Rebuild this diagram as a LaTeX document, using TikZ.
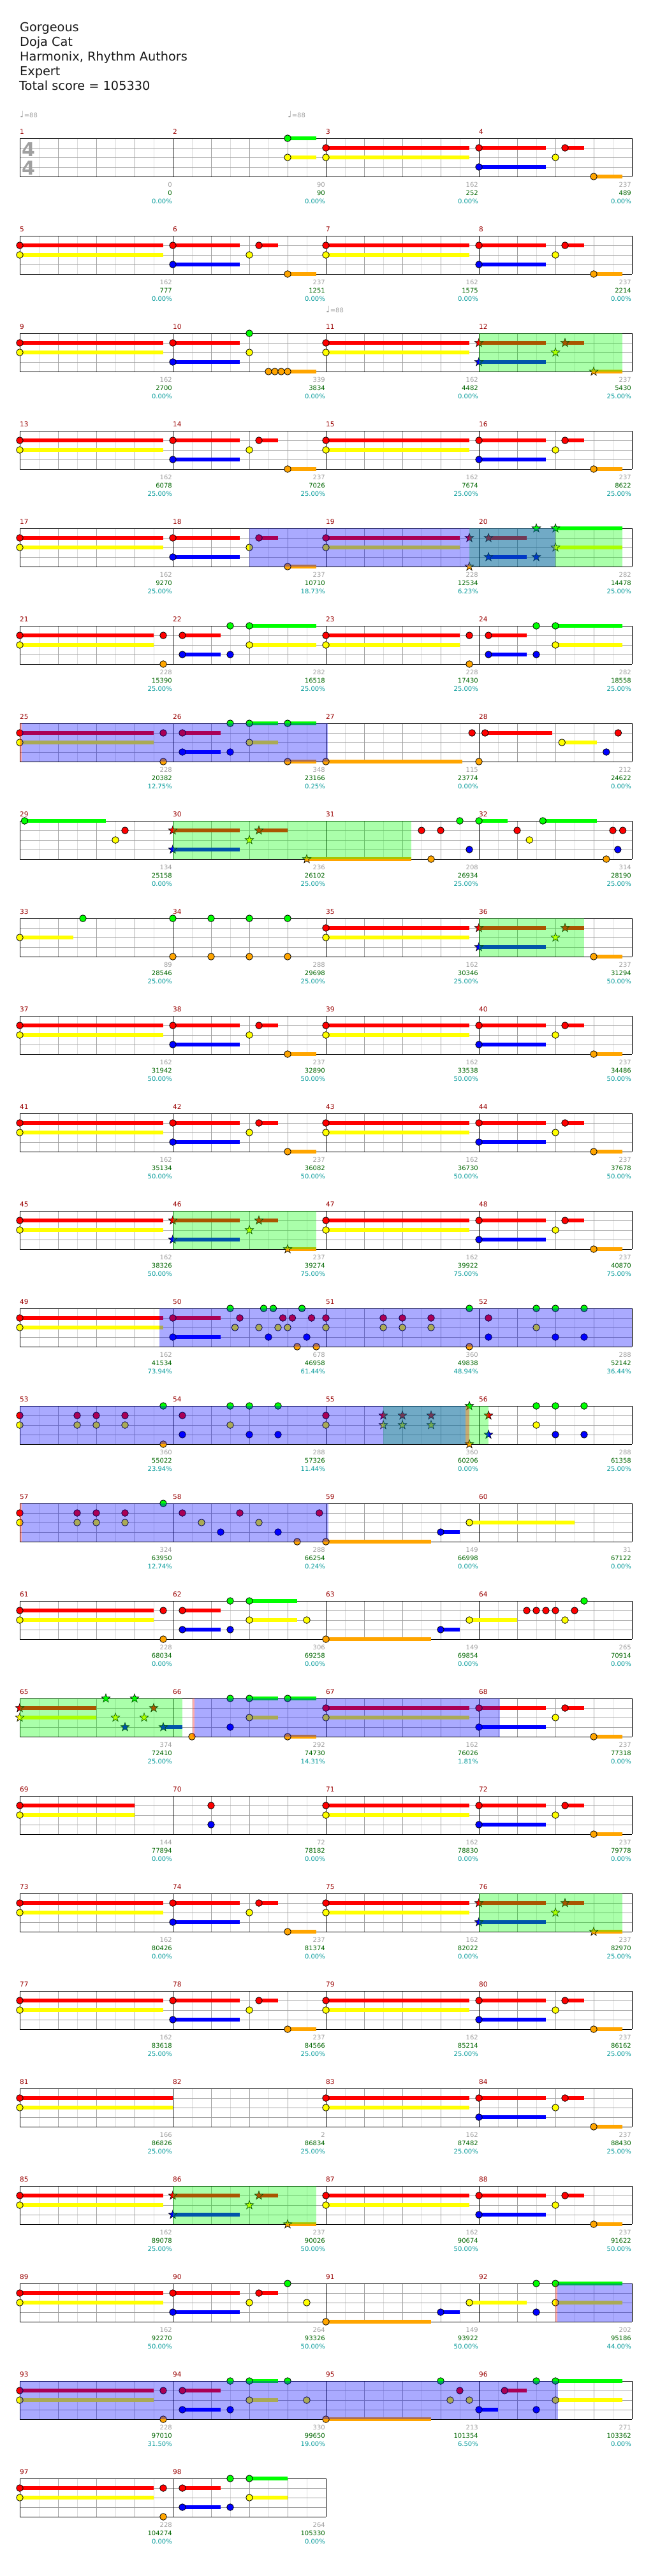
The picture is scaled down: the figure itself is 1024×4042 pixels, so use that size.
\documentclass[tikz,border=0pt]{standalone}
\usepackage{fontspec}
\setmainfont{DejaVu Sans}
\definecolor{ln0}{HTML}{00FF00}
\definecolor{ln1}{HTML}{FF0000}
\definecolor{ln2}{HTML}{FFFF00}
\definecolor{ln3}{HTML}{0000FF}
\definecolor{ln4}{HTML}{FFA500}
\definecolor{lgrc}{HTML}{DCDCDC}
\definecolor{ggrc}{HTML}{A0A0A0}
\definecolor{mnumc}{HTML}{990000}
\definecolor{scgray}{HTML}{A0A0A0}
\definecolor{scgreen}{HTML}{006600}
\definecolor{scteal}{HTML}{009999}
\tikzset{
 notest/.style={draw=black,line width=0.8pt},
 starst/.style={draw=black,line width=0.6pt,line join=miter},
 lgr/.style={draw=lgrc,line width=1pt},
 ggr/.style={draw=ggrc,line width=1pt},
 bgr/.style={draw=black,line width=1pt},
 mnst/.style={anchor=base west,inner sep=0pt,text=mnumc,font=\fontsize{10.5}{12}\selectfont},
 sAst/.style={anchor=base east,inner sep=0pt,text=scgray,font=\fontsize{10}{12}\selectfont},
 sBst/.style={anchor=base east,inner sep=0pt,text=scgreen,font=\fontsize{10}{12}\selectfont},
 sCst/.style={anchor=base east,inner sep=0pt,text=scteal,font=\fontsize{10}{12}\selectfont},
 titst/.style={anchor=base west,inner sep=0pt,text=black!90,font=\fontsize{19.3}{22}\selectfont},
 tempost/.style={anchor=base west,inner sep=0pt,text=scgray,font=\fontsize{10}{12}\selectfont},
 tsig/.style={anchor=base,inner sep=0pt,text=ggrc,font=\fontsize{30}{30}\selectfont\bfseries},
}
\newcommand\Xp[2]{31+240*(#1)+60*(#2)}
\newcommand\Nt[3]{\filldraw[notest,fill=ln#3] ({\Xp{#1}{#2}},{15*(#3)}) circle (5.3);}
\newcommand\St[3]{\filldraw[starst,fill=ln#3,shift={({\Xp{#1}{#2}},{15*(#3)})}] (-90:7.2) -- (-54:2.9) -- (-18:7.2) -- (18:2.9) -- (54:7.2) -- (90:2.9) -- (126:7.2) -- (162:2.9) -- (198:7.2) -- (234:2.9) -- cycle;}
\newcommand\Su[4]{\fill[ln#4] ({\Xp{#1}{#2}},{15*(#4)-3.2}) rectangle ({\Xp{#1}{#3}},{15*(#4)+3.2});}
\newcommand\Gov[4]{\fill[green,fill opacity=0.333] ({\Xp{#1}{#2}},0) rectangle ({\Xp{#3}{#4}},60);}
\newcommand\Bov[4]{\fill[blue,fill opacity=0.333] ({\Xp{#1}{#2}},0) rectangle ({\Xp{#3}{#4}},60);}
\newcommand\GovX[2]{\fill[green,fill opacity=0.333] (#1,0) rectangle (#2,60);}
\newcommand\BovX[2]{\fill[blue,fill opacity=0.333] (#1,0) rectangle (#2,60);}
\newcommand\PovX[2]{\fill[red,fill opacity=0.333] (#1,0) rectangle (#2,60);}
\newcommand\Msc[5]{%
 \node[mnst] (mn#2) at ({\Xp{#1}{0}},-7) {#2};
 \node[sAst] (sa#2) at ({\Xp{#1}{4}-1},76) {#3};
 \node[sBst] (sb#2) at ({\Xp{#1}{4}-1},89) {#4};
 \node[sCst] (sc#2) at ({\Xp{#1}{4}-1},102) {#5\%};}
\newcommand\Grid[1]{%
 \pgfmathtruncatemacro\nhl{8*#1-1}%
 \pgfmathtruncatemacro\nbl{4*#1-1}%
 \foreach \k in {1,3,...,\nhl} {\draw[lgr] ({31+30*\k},0) -- ({31+30*\k},60);}
 \foreach \k in {1,...,\nbl} {\draw[ggr] ({31+60*\k},0) -- ({31+60*\k},60);}
 \foreach \yy in {15,30,45} {\draw[ggr] (31,\yy) -- ({31+240*#1},\yy);}
 \foreach \k in {0,...,#1} {\draw[bgr] ({31+240*\k},0) -- ({31+240*\k},60);}
 \draw[bgr] (31,0) -- ({31+240*#1},0);
 \draw[bgr] (31,60) -- ({31+240*#1},60);}
\newcommand\PatA[1]{\Su{#1}{0}{3.75}{1}\Su{#1}{0}{3.75}{2}\Nt{#1}{0}{1}\Nt{#1}{0}{2}}
\newcommand\PatB[1]{\Su{#1}{0}{1.75}{1}\Su{#1}{2.25}{2.75}{1}\Su{#1}{0}{1.75}{3}\Su{#1}{3}{3.75}{4}\Nt{#1}{0}{1}\Nt{#1}{2.25}{1}\Nt{#1}{2}{2}\Nt{#1}{0}{3}\Nt{#1}{3}{4}}
\newcommand\PatBs[1]{\Su{#1}{0}{1.75}{1}\Su{#1}{2.25}{2.75}{1}\Su{#1}{0}{1.75}{3}\Su{#1}{3}{3.75}{4}\St{#1}{0}{1}\St{#1}{2.25}{1}\St{#1}{2}{2}\St{#1}{0}{3}\St{#1}{3}{4}}
\newcommand\PatC[1]{\Su{#1}{0}{3.5}{1}\Su{#1}{0}{3.5}{2}\Nt{#1}{0}{1}\Nt{#1}{0}{2}\Nt{#1}{3.75}{1}\Nt{#1}{3.75}{4}}
\newcommand\PatD[1]{\Su{#1}{0.25}{1.25}{1}\Su{#1}{0.25}{1.25}{3}\Su{#1}{2}{3.75}{0}\Su{#1}{2}{3.75}{2}\Nt{#1}{0.25}{1}\Nt{#1}{0.25}{3}\Nt{#1}{1.5}{0}\Nt{#1}{1.5}{3}\Nt{#1}{2}{0}\Nt{#1}{2}{2}}
\newcommand\PatE[1]{\Nt{#1}{0}{1}\Nt{#1}{0}{2}\Nt{#1}{1.5}{1}\Nt{#1}{1.5}{2}\Nt{#1}{2}{1}\Nt{#1}{2}{2}\Nt{#1}{2.75}{1}\Nt{#1}{2.75}{2}\Nt{#1}{3.75}{0}\Nt{#1}{3.75}{4}}
\newcommand\PatF[1]{\Nt{#1}{0.25}{1}\Nt{#1}{0.25}{3}\Nt{#1}{1.5}{0}\Nt{#1}{1.5}{2}\Nt{#1}{2}{0}\Nt{#1}{2}{3}\Nt{#1}{2.75}{0}\Nt{#1}{2.75}{3}}
\begin{document}
\begin{tikzpicture}[x=1pt,y=-1pt]
\useasboundingbox (0,0) rectangle (1024,4042);
\fill[white] (0,0) rectangle (1024,4042);
\node[titst] (t1) at (31,49.5) {Gorgeous};
\node[titst] (t2) at (31,72.5) {Doja Cat};
\node[titst] (t3) at (31,95.5) {Harmonix, Rhythm Authors};
\node[titst] (t4) at (31,118.5) {Expert};
\node[titst] (t5) at (30,141.5) {Total score = 105330};
% row 1
\begin{scope}[shift={(0,217)}]
\Grid{4}
\node[tsig] (ts1) at (44.5,28) {4};
\node[tsig] (ts2) at (44.5,57) {4};
\node[tempost] (tp1) at (31,-33) {{\fontsize{14}{14}\selectfont ♩}=88};
\node[tempost] (tp2) at (451,-33) {{\fontsize{14}{14}\selectfont ♩}=88};
\Su{1}{3}{3.75}{0}\Su{1}{3}{3.75}{2}\Nt{1}{3}{0}\Nt{1}{3}{2}
\PatA{2}\PatB{3}
\Msc{0}{1}{0}{0}{0.00}\Msc{1}{2}{90}{90}{0.00}\Msc{2}{3}{162}{252}{0.00}\Msc{3}{4}{237}{489}{0.00}
\end{scope}
% row 2
\begin{scope}[shift={(0,370)}]
\Grid{4}
\PatA{0}\PatB{1}\PatA{2}\PatB{3}
\Msc{0}{5}{162}{777}{0.00}\Msc{1}{6}{237}{1251}{0.00}\Msc{2}{7}{162}{1575}{0.00}\Msc{3}{8}{237}{2214}{0.00}
\end{scope}
% row 3
\begin{scope}[shift={(0,523)}]
\Grid{4}
\node[tempost] (tp3) at (511,-33) {{\fontsize{14}{14}\selectfont ♩}=88};
\PatA{0}
\Su{1}{0}{1.75}{1}\Su{1}{0}{1.75}{3}\Su{1}{3}{3.75}{4}\Nt{1}{0}{1}\Nt{1}{0}{3}\Nt{1}{2}{0}\Nt{1}{2}{2}\Nt{1}{2.5}{4}\Nt{1}{2.667}{4}\Nt{1}{2.833}{4}\Nt{1}{3}{4}
\PatA{2}\PatBs{3}
\Gov{3}{0}{3}{3.75}
\Msc{0}{9}{162}{2700}{0.00}\Msc{1}{10}{339}{3834}{0.00}\Msc{2}{11}{162}{4482}{0.00}\Msc{3}{12}{237}{5430}{25.00}
\end{scope}
% row 4
\begin{scope}[shift={(0,676)}]
\Grid{4}
\PatA{0}\PatB{1}\PatA{2}\PatB{3}
\Msc{0}{13}{162}{6078}{25.00}\Msc{1}{14}{237}{7026}{25.00}\Msc{2}{15}{162}{7674}{25.00}\Msc{3}{16}{237}{8622}{25.00}
\end{scope}
% row 5
\begin{scope}[shift={(0,829)}]
\Grid{4}
\PatA{0}\PatB{1}
\Su{2}{0}{3.5}{1}\Su{2}{0}{3.5}{2}\Nt{2}{0}{1}\Nt{2}{0}{2}\St{2}{3.75}{1}\St{2}{3.75}{4}
\Su{3}{0.25}{1.25}{1}\Su{3}{0.25}{1.25}{3}\Su{3}{2}{3.75}{0}\Su{3}{2}{3.75}{2}\St{3}{0.25}{1}\St{3}{0.25}{3}\St{3}{1.5}{0}\St{3}{1.5}{3}\St{3}{2}{0}\St{3}{2}{2}
\Gov{2}{3.75}{3}{3.75}\Bov{1}{2}{3}{2}
\Msc{0}{17}{162}{9270}{25.00}\Msc{1}{18}{237}{10710}{18.73}\Msc{2}{19}{228}{12534}{6.23}\Msc{3}{20}{282}{14478}{25.00}
\end{scope}
% row 6
\begin{scope}[shift={(0,982)}]
\Grid{4}
\PatC{0}\PatD{1}\PatC{2}\PatD{3}
\Msc{0}{21}{228}{15390}{25.00}\Msc{1}{22}{282}{16518}{25.00}\Msc{2}{23}{228}{17430}{25.00}\Msc{3}{24}{282}{18558}{25.00}
\end{scope}
% row 7
\begin{scope}[shift={(0,1135)}]
\Grid{4}
\PatC{0}
\Su{1}{0.25}{1.25}{1}\Su{1}{0.25}{1.25}{3}\Su{1}{2}{2.75}{0}\Su{1}{2}{2.75}{2}\Su{1}{3}{3.75}{0}\Su{1}{3}{3.75}{4}
\Nt{1}{0.25}{1}\Nt{1}{0.25}{3}\Nt{1}{1.5}{0}\Nt{1}{1.5}{3}\Nt{1}{2}{0}\Nt{1}{2}{2}\Nt{1}{3}{0}\Nt{1}{3}{4}
\Su{2}{0}{3.57}{4}\Nt{2}{0}{4}\Nt{2}{3.82}{1}
\Su{3}{0.16}{1.92}{1}\Su{3}{2.17}{3.09}{2}\Nt{3}{0}{4}\Nt{3}{0.16}{1}\Nt{3}{2.17}{2}\Nt{3}{3.33}{3}\Nt{3}{3.64}{1}
\PovX{31}{34}\BovX{34}{514}
\Msc{0}{25}{228}{20382}{12.75}\Msc{1}{26}{348}{23166}{0.25}\Msc{2}{27}{115}{23774}{0.00}\Msc{3}{28}{212}{24622}{0.00}
\end{scope}
% row 8
\begin{scope}[shift={(0,1288)}]
\Grid{4}
\Su{0}{0.125}{2.25}{0}\Nt{0}{0.125}{0}\Nt{0}{2.5}{2}\Nt{0}{2.75}{1}
\Su{1}{0}{1.75}{1}\Su{1}{2.25}{3}{1}\Su{1}{0}{1.75}{3}\Su{1}{3.5}{6.23}{4}\St{1}{0}{1}\St{1}{2.25}{1}\St{1}{2}{2}\St{1}{0}{3}\St{1}{3.5}{4}
\Nt{2}{2.5}{1}\Nt{2}{2.75}{4}\Nt{2}{3}{1}\Nt{2}{3.5}{0}\Nt{2}{3.75}{3}
\Su{3}{0}{0.75}{0}\Su{3}{1.67}{3.08}{0}\Nt{3}{0}{0}\Nt{3}{1}{1}\Nt{3}{1.32}{2}\Nt{3}{1.67}{0}\Nt{3}{3.33}{4}\Nt{3}{3.5}{1}\Nt{3}{3.63}{3}\Nt{3}{3.76}{1}
\GovX{271}{645}
\Msc{0}{29}{134}{25158}{0.00}\Msc{1}{30}{236}{26102}{25.00}\Msc{2}{31}{208}{26934}{25.00}\Msc{3}{32}{314}{28190}{25.00}
\end{scope}
% row 9
\begin{scope}[shift={(0,1441)}]
\Grid{4}
\Su{0}{0}{1.4}{2}\Nt{0}{0}{2}\Nt{0}{1.65}{0}
\Nt{1}{0}{0}\Nt{1}{1}{0}\Nt{1}{2}{0}\Nt{1}{3}{0}\Nt{1}{0}{4}\Nt{1}{1}{4}\Nt{1}{2}{4}\Nt{1}{3}{4}
\PatA{2}
\Su{3}{0}{1.75}{1}\Su{3}{2.25}{2.75}{1}\Su{3}{0}{1.75}{3}\Su{3}{3}{3.75}{4}\St{3}{0}{1}\St{3}{2.25}{1}\St{3}{2}{2}\St{3}{0}{3}\Nt{3}{3}{4}
\Gov{3}{0}{3}{2.75}
\Msc{0}{33}{89}{28546}{25.00}\Msc{1}{34}{288}{29698}{25.00}\Msc{2}{35}{162}{30346}{25.00}\Msc{3}{36}{237}{31294}{50.00}
\end{scope}
% row 10
\begin{scope}[shift={(0,1594)}]
\Grid{4}
\PatA{0}\PatB{1}\PatA{2}\PatB{3}
\Msc{0}{37}{162}{31942}{50.00}\Msc{1}{38}{237}{32890}{50.00}\Msc{2}{39}{162}{33538}{50.00}\Msc{3}{40}{237}{34486}{50.00}
\end{scope}
% row 11
\begin{scope}[shift={(0,1747)}]
\Grid{4}
\PatA{0}\PatB{1}\PatA{2}\PatB{3}
\Msc{0}{41}{162}{35134}{50.00}\Msc{1}{42}{237}{36082}{50.00}\Msc{2}{43}{162}{36730}{50.00}\Msc{3}{44}{237}{37678}{50.00}
\end{scope}
% row 12
\begin{scope}[shift={(0,1900)}]
\Grid{4}
\PatA{0}\PatBs{1}\PatA{2}\PatB{3}
\Gov{1}{0}{1}{3.75}
\Msc{0}{45}{162}{38326}{50.00}\Msc{1}{46}{237}{39274}{75.00}\Msc{2}{47}{162}{39922}{75.00}\Msc{3}{48}{237}{40870}{75.00}
\end{scope}
% row 13
\begin{scope}[shift={(0,2053)}]
\Grid{4}
\PatA{0}
\Su{1}{0}{1.25}{1}\Su{1}{0}{1.25}{3}
\Nt{1}{0}{1}\Nt{1}{0}{3}\Nt{1}{1.5}{0}\Nt{1}{1.625}{2}\Nt{1}{1.75}{1}\Nt{1}{2.25}{2}\Nt{1}{2.375}{0}\Nt{1}{2.5}{3}\Nt{1}{2.625}{0}\Nt{1}{2.75}{2}\Nt{1}{2.875}{1}\Nt{1}{3}{2}\Nt{1}{3.125}{1}\Nt{1}{3.25}{4}\Nt{1}{3.375}{0}\Nt{1}{3.5}{3}\Nt{1}{3.625}{1}\Nt{1}{3.75}{4}
\PatE{2}\PatF{3}
\Bov{0}{3.65}{4}{0}
\Msc{0}{49}{162}{41534}{73.94}\Msc{1}{50}{678}{46958}{61.44}\Msc{2}{51}{360}{49838}{48.94}\Msc{3}{52}{288}{52142}{36.44}
\end{scope}
% row 14
\begin{scope}[shift={(0,2206)}]
\Grid{4}
\PatE{0}\PatF{1}
\Nt{2}{0}{1}\Nt{2}{0}{2}\St{2}{1.5}{1}\St{2}{1.5}{2}\St{2}{2}{1}\St{2}{2}{2}\St{2}{2.75}{1}\St{2}{2.75}{2}\St{2}{3.75}{0}\St{2}{3.75}{4}
\St{3}{0.25}{1}\St{3}{0.25}{3}\Nt{3}{1.5}{0}\Nt{3}{1.5}{2}\Nt{3}{2}{0}\Nt{3}{2}{3}\Nt{3}{2.75}{0}\Nt{3}{2.75}{3}
\Gov{2}{1.5}{3}{0.25}\BovX{31}{730}\PovX{730}{736}
\Msc{0}{53}{360}{55022}{23.94}\Msc{1}{54}{288}{57326}{11.44}\Msc{2}{55}{360}{60206}{0.00}\Msc{3}{56}{288}{61358}{25.00}
\end{scope}
% row 15
\begin{scope}[shift={(0,2359)}]
\Grid{4}
\Nt{0}{0}{1}\Nt{0}{0}{2}\Nt{0}{1.5}{1}\Nt{0}{1.5}{2}\Nt{0}{2}{1}\Nt{0}{2}{2}\Nt{0}{2.75}{1}\Nt{0}{2.75}{2}\Nt{0}{3.75}{0}
\Nt{1}{0.25}{1}\Nt{1}{0.75}{2}\Nt{1}{1.25}{3}\Nt{1}{1.75}{1}\Nt{1}{2.25}{2}\Nt{1}{2.75}{3}\Nt{1}{3.25}{4}\Nt{1}{3.83}{1}
\Su{2}{0}{2.75}{4}\Su{2}{3}{3.5}{3}\Su{2}{3.75}{6.5}{2}\Nt{2}{0}{4}\Nt{2}{3}{3}\Nt{2}{3.75}{2}
\PovX{31}{34}\BovX{34}{515}
\Msc{0}{57}{324}{63950}{12.74}\Msc{1}{58}{288}{66254}{0.24}\Msc{2}{59}{149}{66998}{0.00}\Msc{3}{60}{31}{67122}{0.00}
\end{scope}
% row 16
\begin{scope}[shift={(0,2512)}]
\Grid{4}
\PatC{0}
\Su{1}{0.25}{1.25}{1}\Su{1}{0.25}{1.25}{3}\Su{1}{2}{3.25}{0}\Su{1}{2}{3.25}{2}\Nt{1}{0.25}{1}\Nt{1}{0.25}{3}\Nt{1}{1.5}{0}\Nt{1}{1.5}{3}\Nt{1}{2}{0}\Nt{1}{2}{2}\Nt{1}{3.5}{2}
\Su{2}{0}{2.75}{4}\Su{2}{3}{3.5}{3}\Su{2}{3.75}{5}{2}\Nt{2}{0}{4}\Nt{2}{3}{3}\Nt{2}{3.75}{2}
\Nt{3}{1.25}{1}\Nt{3}{1.5}{1}\Nt{3}{1.75}{1}\Nt{3}{2}{1}\Nt{3}{2.25}{2}\Nt{3}{2.5}{1}\Nt{3}{2.75}{0}
\Msc{0}{61}{228}{68034}{0.00}\Msc{1}{62}{306}{69258}{0.00}\Msc{2}{63}{149}{69854}{0.00}\Msc{3}{64}{265}{70914}{0.00}
\end{scope}
% row 17
\begin{scope}[shift={(0,2665)}]
\Grid{4}
\Su{0}{0}{2}{1}\Su{0}{0}{2}{2}\Su{0}{3.75}{4.25}{3}\St{0}{0}{1}\St{0}{0}{2}\St{0}{2.25}{0}\St{0}{2.5}{2}\St{0}{2.75}{3}\St{0}{3}{0}\St{0}{3.25}{2}\St{0}{3.5}{1}\St{0}{3.75}{3}
\Su{1}{2}{2.75}{0}\Su{1}{2}{2.75}{2}\Su{1}{3}{3.75}{0}\Su{1}{3}{3.75}{4}\Nt{1}{0.5}{4}\Nt{1}{1.5}{0}\Nt{1}{1.5}{3}\Nt{1}{2}{0}\Nt{1}{2}{2}\Nt{1}{3}{0}\Nt{1}{3}{4}
\PatA{2}\PatB{3}
\GovX{31}{286}\PovX{302}{305}\BovX{305}{784}
\Msc{0}{65}{374}{72410}{25.00}\Msc{1}{66}{292}{74730}{14.31}\Msc{2}{67}{162}{76026}{1.81}\Msc{3}{68}{237}{77318}{0.00}
\end{scope}
% row 18
\begin{scope}[shift={(0,2818)}]
\Grid{4}
\Su{0}{0}{3}{1}\Su{0}{0}{3}{2}\Nt{0}{0}{1}\Nt{0}{0}{2}
\Nt{1}{1}{1}\Nt{1}{1}{3}
\PatA{2}\PatB{3}
\Msc{0}{69}{144}{77894}{0.00}\Msc{1}{70}{72}{78182}{0.00}\Msc{2}{71}{162}{78830}{0.00}\Msc{3}{72}{237}{79778}{0.00}
\end{scope}
% row 19
\begin{scope}[shift={(0,2971)}]
\Grid{4}
\PatA{0}\PatB{1}\PatA{2}\PatBs{3}
\Gov{3}{0}{3}{3.75}
\Msc{0}{73}{162}{80426}{0.00}\Msc{1}{74}{237}{81374}{0.00}\Msc{2}{75}{162}{82022}{0.00}\Msc{3}{76}{237}{82970}{25.00}
\end{scope}
% row 20
\begin{scope}[shift={(0,3124)}]
\Grid{4}
\PatA{0}\PatB{1}\PatA{2}\PatB{3}
\Msc{0}{77}{162}{83618}{25.00}\Msc{1}{78}{237}{84566}{25.00}\Msc{2}{79}{162}{85214}{25.00}\Msc{3}{80}{237}{86162}{25.00}
\end{scope}
% row 21
\begin{scope}[shift={(0,3277)}]
\Grid{4}
\Su{0}{0}{4}{1}\Su{0}{0}{4}{2}\Nt{0}{0}{1}\Nt{0}{0}{2}
\PatA{2}\PatB{3}
\Msc{0}{81}{166}{86826}{25.00}\Msc{1}{82}{2}{86834}{25.00}\Msc{2}{83}{162}{87482}{25.00}\Msc{3}{84}{237}{88430}{25.00}
\end{scope}
% row 22
\begin{scope}[shift={(0,3430)}]
\Grid{4}
\PatA{0}\PatBs{1}\PatA{2}\PatB{3}
\Gov{1}{0}{1}{3.75}
\Msc{0}{85}{162}{89078}{25.00}\Msc{1}{86}{237}{90026}{50.00}\Msc{2}{87}{162}{90674}{50.00}\Msc{3}{88}{237}{91622}{50.00}
\end{scope}
% row 23
\begin{scope}[shift={(0,3583)}]
\Grid{4}
\PatA{0}
\Su{1}{0}{1.75}{1}\Su{1}{2.25}{2.75}{1}\Su{1}{0}{1.75}{3}\Nt{1}{0}{1}\Nt{1}{0}{3}\Nt{1}{2}{2}\Nt{1}{2.25}{1}\Nt{1}{3}{0}\Nt{1}{3.5}{2}
\Su{2}{0}{2.75}{4}\Su{2}{3}{3.5}{3}\Su{2}{3.75}{5.25}{2}\Nt{2}{0}{4}\Nt{2}{3}{3}\Nt{2}{3.75}{2}
\Su{3}{2}{3.75}{0}\Su{3}{2}{3.75}{2}\Nt{3}{1.5}{0}\Nt{3}{1.5}{3}\Nt{3}{2}{0}\Nt{3}{2}{2}
\PovX{871}{874}\BovX{874}{991}
\Msc{0}{89}{162}{92270}{50.00}\Msc{1}{90}{264}{93326}{50.00}\Msc{2}{91}{149}{93922}{50.00}\Msc{3}{92}{202}{95186}{44.00}
\end{scope}
% row 24
\begin{scope}[shift={(0,3736)}]
\Grid{4}
\PatC{0}
\Su{1}{0.25}{1.25}{1}\Su{1}{0.25}{1.25}{3}\Su{1}{2}{2.75}{0}\Su{1}{2}{2.75}{2}\Nt{1}{0.25}{1}\Nt{1}{0.25}{3}\Nt{1}{1.5}{0}\Nt{1}{1.5}{3}\Nt{1}{2}{0}\Nt{1}{2}{2}\Nt{1}{3}{0}\Nt{1}{3.5}{2}
\Su{2}{0}{2.75}{4}\Nt{2}{0}{4}\Nt{2}{3}{0}\Nt{2}{3.25}{2}\Nt{2}{3.5}{1}\Nt{2}{3.75}{2}
\Su{3}{0}{0.5}{3}\Su{3}{0.67}{1.25}{1}\Su{3}{2}{3.75}{0}\Su{3}{2}{3.75}{2}\Nt{3}{0}{3}\Nt{3}{0.67}{1}\Nt{3}{1.5}{0}\Nt{3}{1.5}{3}\Nt{3}{2}{0}\Nt{3}{2}{2}
\BovX{31}{875}
\Msc{0}{93}{228}{97010}{31.50}\Msc{1}{94}{330}{99650}{19.00}\Msc{2}{95}{213}{101354}{6.50}\Msc{3}{96}{271}{103362}{0.00}
\end{scope}
% row 25
\begin{scope}[shift={(0,3889)}]
\Grid{2}
\PatC{0}
\Su{1}{0.25}{1.25}{1}\Su{1}{0.25}{1.25}{3}\Su{1}{2}{3}{0}\Su{1}{2}{3}{2}\Nt{1}{0.25}{1}\Nt{1}{0.25}{3}\Nt{1}{1.5}{0}\Nt{1}{1.5}{3}\Nt{1}{2}{0}\Nt{1}{2}{2}
\Msc{0}{97}{228}{104274}{0.00}\Msc{1}{98}{264}{105330}{0.00}
\end{scope}
\end{tikzpicture}
\end{document}
